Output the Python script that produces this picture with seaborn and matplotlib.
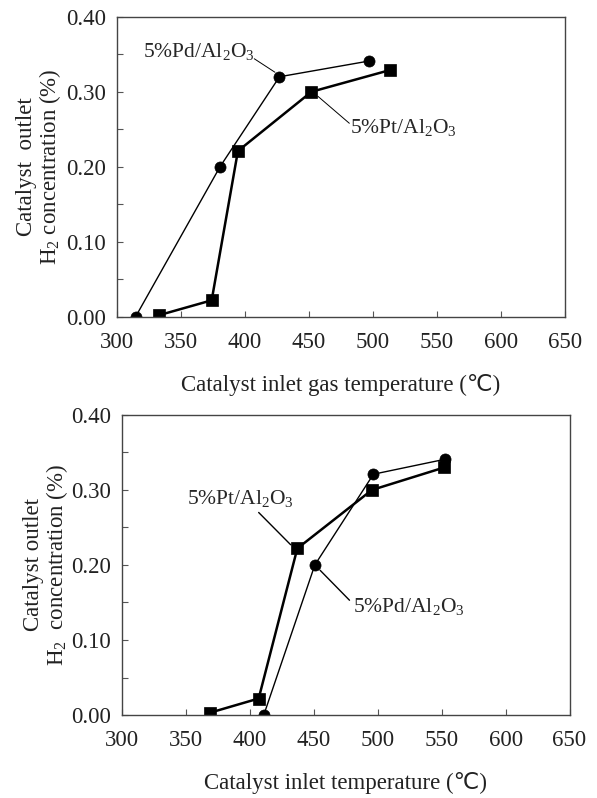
import numpy as np
import matplotlib
matplotlib.use("Agg")
import matplotlib.pyplot as plt
import seaborn as sns
from matplotlib.ticker import MultipleLocator

# --- données ---
pd_x_top = [314.5, 380.5, 427.0, 497.0]
pd_y_top = [0.000, 0.200, 0.320, 0.341]
pt_x_top = [332.5, 374.0, 394.5, 452.0, 513.5]
pt_y_top = [0.002, 0.022, 0.221, 0.300, 0.329]

pt_x_bot = [368.8, 407.0, 437.2, 495.5, 552.0]
pt_y_bot = [0.003, 0.022, 0.222, 0.300, 0.330]
pd_x_bot = [411.0, 450.9, 496.7, 552.8]
pd_y_bot = [0.000, 0.200, 0.321, 0.341]

xticks = [300, 350, 400, 450, 500, 550, 600, 650]
yticks = [0.0, 0.1, 0.2, 0.3, 0.4]

sns.set_style("ticks")
plt.rcParams['font.family'] = ['Liberation Serif', 'DejaVu Sans']
plt.rcParams['mathtext.fontset'] = 'custom'
plt.rcParams['mathtext.rm'] = 'Liberation Serif'
plt.rcParams['mathtext.it'] = 'Liberation Serif'

TFS = 16.5   # tick labels
LFS = 16.5   # axis labels
AFS = 15.5   # annotations
TXT = "#222222"

fig = plt.figure(figsize=(5.97, 7.98), dpi=100)
ax1 = fig.add_axes([0.196, 0.603, 0.750, 0.376])
ax2 = fig.add_axes([0.204, 0.104, 0.750, 0.376])


def style_axes(ax, xlabel, ylabel, lx):
    ax.set_xlim(300, 650)
    ax.set_ylim(0, 0.40)
    ax.set_xticks(xticks)
    ax.set_yticks(yticks)
    ax.set_yticklabels([f"{v:.2f}" for v in yticks])
    ax.yaxis.set_minor_locator(MultipleLocator(0.05))
    ax.tick_params(direction="in", length=4, width=0.8, labelsize=TFS,
                   colors="#555555", labelcolor=TXT)
    ax.tick_params(axis="x", pad=11)
    ax.tick_params(axis="y", pad=8)
    ax.tick_params(which="minor", direction="in", length=4, width=0.8, colors="#555555")
    for s in ax.spines.values():
        s.set_visible(True)
        s.set_linewidth(1.0)
        s.set_color("#444444")
    ax.set_xlabel(xlabel, fontsize=LFS, color=TXT, labelpad=15)
    ax.set_ylabel(ylabel, fontsize=LFS, color=TXT, linespacing=1.0)
    ax.yaxis.set_label_coords(lx, 0.5)


def draw(ax, x, y, lw, marker, ms):
    sns.lineplot(x=x, y=y, ax=ax, color="black", lw=lw, marker=marker,
                 markersize=ms, markeredgecolor="black", markeredgewidth=0.5,
                 sort=False)


draw(ax1, pd_x_top, pd_y_top, 1.0, "o", 8)
draw(ax1, pt_x_top, pt_y_top, 1.8, "s", 8)
style_axes(ax1, "Catalyst inlet gas temperature (\u2103)",
           "Catalyst  outlet\nH$_2$ concentration (%)", -0.12)
ax1.text(320.7, 0.354, "5%Pd/Al$_2$O$_3$", fontsize=AFS, va="center", ha="left")
ax1.plot([407.3, 423.5], [0.344, 0.326], color="black", lw=0.7)
ax1.text(482.5, 0.252, "5%Pt/Al$_2$O$_3$", fontsize=AFS, va="center", ha="left")
ax1.plot([481.6, 457.0], [0.258, 0.294], color="black", lw=0.7)

draw(ax2, pd_x_bot, pd_y_bot, 1.0, "o", 8)
draw(ax2, pt_x_bot, pt_y_bot, 1.8, "s", 8)
style_axes(ax2, "Catalyst inlet temperature (\u2103)",
           "Catalyst outlet\nH$_2$  concentration (%)", -0.115)
ax2.text(350.7, 0.288, "5%Pt/Al$_2$O$_3$", fontsize=AFS, va="center", ha="left")
ax2.plot([407.0, 432.0], [0.270, 0.227], color="black", lw=1.0)
ax2.text(481.0, 0.145, "5%Pd/Al$_2$O$_3$", fontsize=AFS, va="center", ha="left")
ax2.plot([478.0, 455.0], [0.153, 0.193], color="black", lw=1.0)

fig.savefig("out.png", dpi=100)
